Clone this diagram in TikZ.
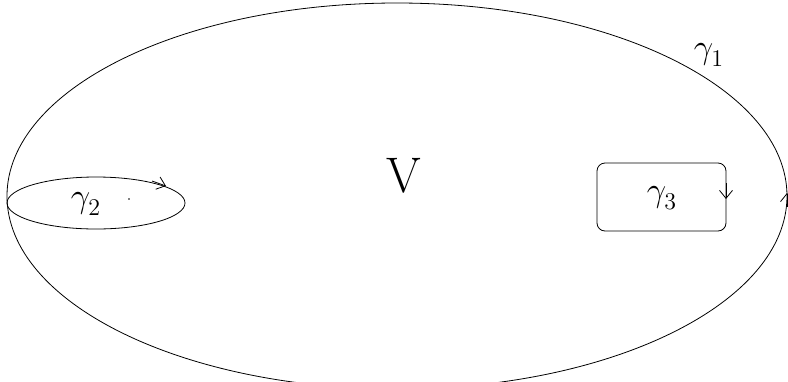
\documentclass[tikz,border=0pt]{standalone}
\usetikzlibrary{arrows.meta}
\newcommand{\gam}[1]{\scalebox{2}{\LARGE$\gamma_{\raisebox{-1.5pt}{$\scriptstyle #1$}}$}}

\begin{document}
\begin{tikzpicture}[x=1pt, y=-1pt,
    curve/.style={line width=0.8pt, black},
    arr/.style={-{Straight Barb[length=8pt, width=13pt]}, line width=0.8pt},
    lbl/.style={inner sep=0pt},
]
\useasboundingbox (0,0) rectangle (788,381);

% region V and its boundary
\draw[curve] (397,196) ellipse [x radius=390, y radius=193];
\node[font=\fontsize{50}{50}\selectfont, inner sep=0pt] (V) at (404,176) {V};
\node[lbl] (g1) at (709,55) {\gam{1}};

% small loop on the left
\draw[curve] (96,203) ellipse [x radius=89, y radius=26];
\node[lbl] (g2) at (86,204) {\gam{2}};
\fill (129,199) circle (0.9pt);

% rounded loop on the right
\node[draw, curve, rounded corners=8pt, minimum width=129pt, minimum height=68pt] (box3) at (661.5,197) {};
\node[lbl] (g3) at (662,198) {\gam{3}};

% orientations
\coordinate (a2) at (152,181);
\coordinate (b2) at (166,186);
\coordinate (a3) at (726,183);
\coordinate (b3) at (726,199);
\coordinate (a1) at (787,207);
\coordinate (b1) at (787,193);
\foreach \a/\b in {a2/b2, a3/b3, a1/b1} \draw[arr] (\a) -- (\b);
\end{tikzpicture}
\end{document}
